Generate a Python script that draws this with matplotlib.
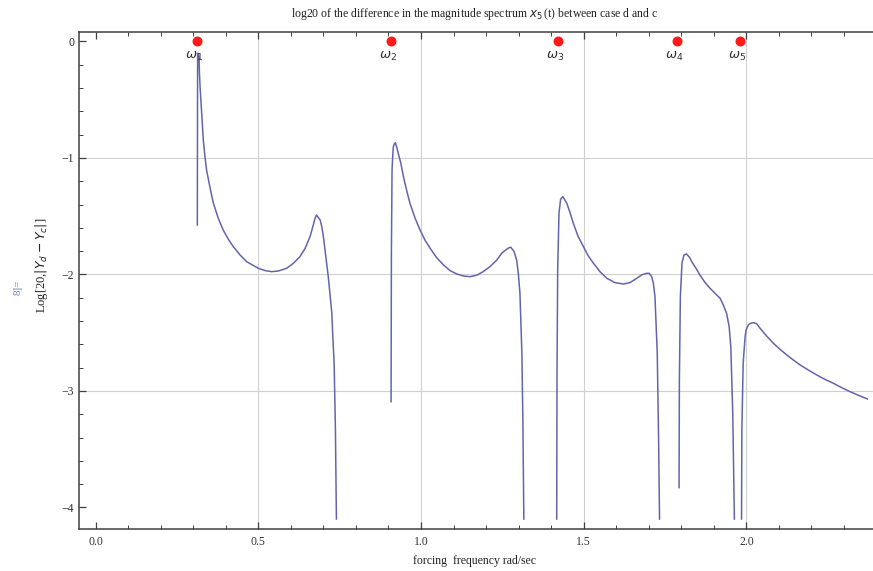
#!/usr/bin/env python
"""Difference in the magnitude spectrum of x5(t) between case d and case c."""

import numpy as np
import matplotlib.pyplot as plt
from matplotlib.ticker import MultipleLocator

# Branches of Log[20, |Yd - Yc|] vs forcing frequency (rad/sec).
# The curve is broken between branches (log of a vanishing difference).
BR1_W = [0.3126, 0.3135, 0.318, 0.3187, 0.321, 0.323, 0.326, 0.331, 0.336,
         0.341, 0.352, 0.362, 0.377, 0.392, 0.408, 0.423, 0.444, 0.464,
         0.500, 0.521, 0.541, 0.562, 0.587, 0.608, 0.628, 0.644, 0.659,
         0.669, 0.674, 0.679, 0.684, 0.690, 0.695, 0.700, 0.710, 0.715,
         0.720, 0.726, 0.729, 0.733, 0.737, 0.740]
BR1_Y = [-1.575, -0.10, -0.13, -0.245, -0.388, -0.474, -0.617, -0.846,
         -0.989, -1.103, -1.26, -1.389, -1.518, -1.618, -1.698, -1.761,
         -1.833, -1.890, -1.947, -1.967, -1.976, -1.970, -1.947, -1.904,
         -1.847, -1.775, -1.675, -1.575, -1.52, -1.489, -1.51, -1.532,
         -1.589, -1.675, -1.904, -2.019, -2.161, -2.333, -2.534, -2.762,
         -3.335, -4.10]

BR2_W = [0.908, 0.909, 0.910, 0.911, 0.913, 0.915, 0.918, 0.921, 0.925,
         0.930, 0.938, 0.946, 0.956, 0.966, 0.982, 0.997, 1.012, 1.028,
         1.048, 1.069, 1.089, 1.110, 1.130, 1.151, 1.171, 1.191, 1.212,
         1.233, 1.248, 1.263, 1.271, 1.276, 1.286, 1.294, 1.299, 1.304,
         1.310, 1.313, 1.316]
BR2_Y = [-3.092, -1.818, -1.389, -1.103, -0.989, -0.903, -0.88, -0.869,
         -0.903, -0.960, -1.046, -1.160, -1.28, -1.389, -1.518, -1.618,
         -1.704, -1.775, -1.856, -1.918, -1.967, -1.996, -2.013, -2.019,
         -2.007, -1.976, -1.933, -1.876, -1.818, -1.784, -1.770, -1.767,
         -1.804, -1.876, -1.990, -2.161, -2.677, -3.249, -4.10]

BR3_W = [1.417, 1.418, 1.420, 1.424, 1.429, 1.436, 1.448, 1.458, 1.468,
         1.483, 1.499, 1.514, 1.530, 1.550, 1.571, 1.596, 1.622, 1.642,
         1.663, 1.678, 1.694, 1.701, 1.709, 1.714, 1.719, 1.726, 1.730,
         1.733]
BR3_Y = [-4.10, -2.82, -1.961, -1.475, -1.355, -1.332, -1.389, -1.469,
         -1.561, -1.675, -1.761, -1.841, -1.904, -1.976, -2.033, -2.070,
         -2.082, -2.070, -2.033, -2.004, -1.990, -1.990, -2.019, -2.076,
         -2.19, -2.677, -3.39, -4.10]

BR4_W = [1.793, 1.794, 1.797, 1.802, 1.808, 1.816, 1.825, 1.832, 1.845,
         1.857, 1.873, 1.888, 1.903, 1.919, 1.929, 1.939, 1.947, 1.952,
         1.958, 1.963]
BR4_Y = [-3.83, -2.906, -2.19, -1.904, -1.833, -1.824, -1.853, -1.890,
         -1.947, -2.004, -2.070, -2.118, -2.161, -2.204, -2.262, -2.333,
         -2.448, -2.62, -3.19, -4.10]

BR5_W = [1.985, 1.986, 1.990, 1.996, 1.999, 2.006, 2.013, 2.023, 2.032,
         2.042, 2.062, 2.083, 2.103, 2.124, 2.144, 2.165, 2.190, 2.216,
         2.241, 2.267, 2.293, 2.318, 2.344, 2.372]
BR5_Y = [-4.10, -3.335, -2.762, -2.534, -2.476, -2.433, -2.419, -2.414,
         -2.425, -2.462, -2.528, -2.591, -2.642, -2.691, -2.734, -2.777,
         -2.820, -2.863, -2.900, -2.934, -2.972, -3.006, -3.037, -3.069]

# natural frequencies omega_1 .. omega_5
OMEGA = [0.312, 0.907, 1.420, 1.787, 1.980]
OMEGA_LABELS = [r"$\omega_1$", r"$\omega_2$", r"$\omega_3$", r"$\omega_4$",
                r"$\omega_5$"]

X_TICKS = [0.0, 0.5, 1.0, 1.5, 2.0]
Y_TICKS = [0, -1, -2, -3, -4]

LINE_COLOR = "#6464ad"
FRAME = "#404040"
SERIF = ["Liberation Serif", "DejaVu Serif"]


def main():
    plt.rcParams["mathtext.fontset"] = "dejavusans"

    fig = plt.figure(figsize=(8.73, 5.71), dpi=100)
    ax = fig.add_axes([0.0905, 0.0736, 0.9095, 0.8709])

    w, y = [], []
    for bw, by in [(BR1_W, BR1_Y), (BR2_W, BR2_Y), (BR3_W, BR3_Y),
                   (BR4_W, BR4_Y), (BR5_W, BR5_Y)]:
        w += bw + [np.nan]
        y += by + [np.nan]
    ax.plot(w, y, color=LINE_COLOR, lw=1.1, zorder=3)

    for g in [0.5, 1.0, 1.5, 2.0]:
        ax.axvline(g, color="#d0d0d0", lw=0.8, zorder=1)
    for g in [-1, -2, -3]:
        ax.axhline(g, color="#d0d0d0", lw=0.8, zorder=1)

    ax.scatter(OMEGA, [0] * len(OMEGA), s=38, color="#ff1a1a",
               zorder=5, clip_on=False)
    for om, lab in zip(OMEGA, OMEGA_LABELS):
        ax.text(om - 0.008, -0.07, lab, ha="center", va="top",
                fontsize=9.5, color="#333333", zorder=6)

    ax.set_xlim(-0.051, 2.389)
    ax.set_ylim(-4.185, 0.084)

    ax.set_xticks(X_TICKS)
    ax.set_xticklabels([f"{v:.1f}" for v in X_TICKS], family=SERIF)
    ax.set_yticks(Y_TICKS)
    ax.set_yticklabels(["0"] + [f"\u2212{abs(v)}" for v in Y_TICKS[1:]],
                       family=SERIF)
    ax.xaxis.set_minor_locator(MultipleLocator(0.1))
    ax.yaxis.set_minor_locator(MultipleLocator(0.2))
    ax.tick_params(which="both", direction="in", top=True, right=False,
                   colors=FRAME, labelsize=8.5, labelcolor="#333333")
    ax.tick_params(which="major", length=5, width=0.9)
    ax.tick_params(which="minor", length=3, width=0.7)
    ax.tick_params(axis="x", pad=5)

    for side in ["left", "bottom", "top"]:
        ax.spines[side].set_color(FRAME)
        ax.spines[side].set_linewidth(1.1)
    ax.spines["right"].set_visible(False)

    fig.text(0.544, 0.975,
             r"log20 of the difference in the magnitude spectrum $x_5\,$(t) "
             "between case d and c",
             ha="center", va="center", fontsize=8.5, family=SERIF,
             color="#222222")
    fig.text(0.544, 0.017, "forcing  frequency rad/sec", ha="center",
             va="center", fontsize=8.5, family=SERIF, color="#222222")
    fig.text(0.048, 0.536, r"Log[20,$|Y_d - Y_c|$]", rotation=90,
             ha="center", va="center", fontsize=9, family=SERIF,
             color="#222222")
    fig.text(0.021, 0.497, "8]=", rotation=90, ha="center", va="center",
             fontsize=8, family=SERIF, color="#6f7fb5")

    fig.savefig("out.png", dpi=100)


if __name__ == "__main__":
    main()
